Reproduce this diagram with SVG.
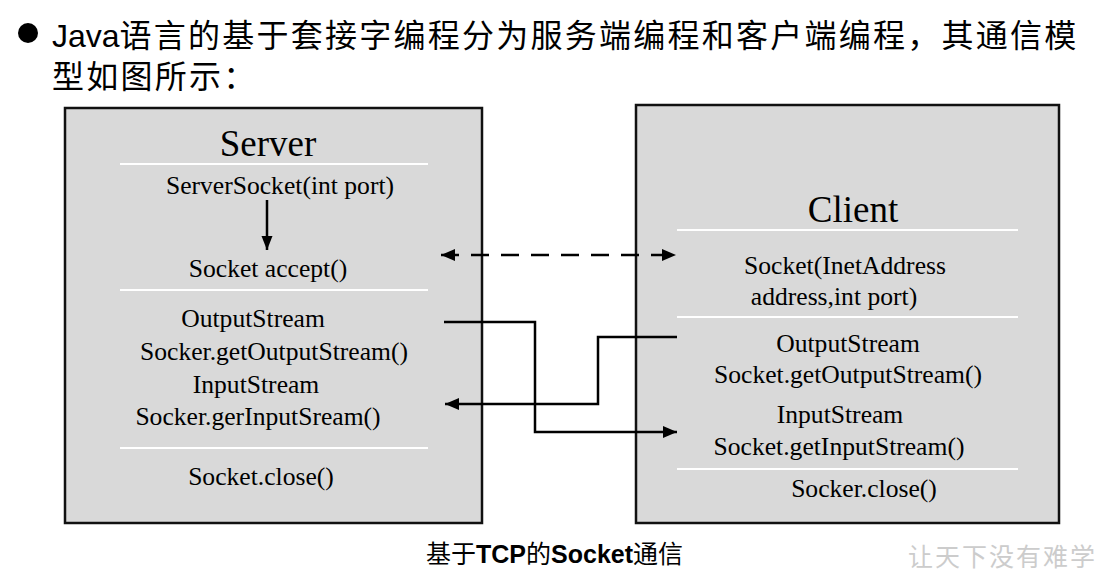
<svg xmlns="http://www.w3.org/2000/svg" width="1108" height="583" viewBox="0 0 1108 583">
<style>
.box{fill:#d9d9d9;stroke:#111;stroke-width:2.5}
.sep{stroke:#ffffff;stroke-width:2}
.t{font-family:"Liberation Serif","Times New Roman",serif;font-size:25.6px;fill:#000;text-anchor:middle}
.title{font-family:"Liberation Serif","Times New Roman",serif;font-size:37px;fill:#000;text-anchor:middle}
.conn{fill:none;stroke:#000;stroke-width:2.5}
.head{font-family:"Liberation Sans",Arial,"Noto Sans CJK SC",sans-serif;font-size:32px;fill:#000}
.cjk{font-family:"Noto Sans CJK SC",sans-serif}
</style>
<defs>
<marker id="ah" markerUnits="userSpaceOnUse" markerWidth="15" markerHeight="13" refX="14" refY="6" orient="auto-start-reverse" viewBox="0 0 15 13">
<path d="M0,0 L14,6 L0,12 z" fill="#000"/>
</marker>
<marker id="ahs" markerUnits="userSpaceOnUse" markerWidth="15" markerHeight="13" refX="14" refY="6" orient="auto" viewBox="0 0 15 13">
<path d="M0,0.5 L14,6 L0,11.5 z" fill="#000"/>
</marker>
</defs>
<rect width="1108" height="583" fill="#fff"/>

<g id="heading">
<circle cx="28" cy="33" r="10" fill="#000"/>
<text class="head" x="52" y="47">Java<tspan class="cjk" letter-spacing="2.25">语言的基于套接字编程分为服务端编程和客户端编程，其通信模</tspan></text>
<text class="head cjk" x="52" y="88" letter-spacing="2.25">型如图所示：</text>
</g>

<g id="server">
<rect class="box" x="65" y="108" width="417" height="415"/>
<text class="title" x="268" y="156">Server</text>
<line class="sep" x1="120" y1="164" x2="428" y2="164"/>
<text class="t" x="280" y="194">ServerSocket(int port)</text>
<line class="conn" x1="267" y1="200" x2="267" y2="250" marker-end="url(#ahs)" stroke-width="2"/>
<text class="t" x="268" y="277">Socket accept()</text>
<line class="sep" x1="120" y1="290" x2="428" y2="290"/>
<text class="t" x="253" y="327">OutputStream</text>
<text class="t" x="274" y="360">Socker.getOutputStream()</text>
<text class="t" x="256" y="393">InputStream</text>
<text class="t" x="258" y="425">Socker.gerInputSream()</text>
<line class="sep" x1="120" y1="448" x2="428" y2="448"/>
<text class="t" x="261" y="485">Socket.close()</text>
</g>

<g id="client">
<rect class="box" x="636" y="105" width="423" height="418"/>
<text class="title" x="853" y="222">Client</text>
<line class="sep" x1="677" y1="230" x2="1018" y2="230"/>
<text class="t" x="845" y="274">Socket(InetAddress</text>
<text class="t" x="834" y="305">address,int port)</text>
<line class="sep" x1="677" y1="317" x2="1018" y2="317"/>
<text class="t" x="848" y="352">OutputStream</text>
<text class="t" x="848" y="383">Socket.getOutputStream()</text>
<text class="t" x="840" y="423">InputStream</text>
<text class="t" x="839" y="455">Socket.getInputStream()</text>
<line class="sep" x1="677" y1="469" x2="1018" y2="469" stroke-width="1.5"/>
<text class="t" x="864" y="497">Socker.close()</text>
</g>

<g id="connectors">
<path class="conn" d="M441,255 H676" stroke-width="2" stroke-dasharray="18 12" marker-start="url(#ah)" marker-end="url(#ah)"/>
<path class="conn" d="M444,322 H535 V432 H677" marker-end="url(#ah)"/>
<path class="conn" d="M677,337 H598 V404 H445" marker-end="url(#ah)"/>
</g>

<g id="caption">
<text x="426" y="563" font-family="Noto Sans CJK SC,sans-serif" font-size="25" fill="#000">基于<tspan font-family="Liberation Sans,Arial,sans-serif" font-weight="bold">TCP</tspan>的<tspan font-family="Liberation Sans,Arial,sans-serif" font-weight="bold">Socket</tspan>通信</text>
</g>

<g id="watermark">
<text x="908" y="566" font-family="Noto Sans CJK SC,sans-serif" font-size="25" letter-spacing="2" fill="#cccccc">让天下没有难学</text>
</g>
</svg>
